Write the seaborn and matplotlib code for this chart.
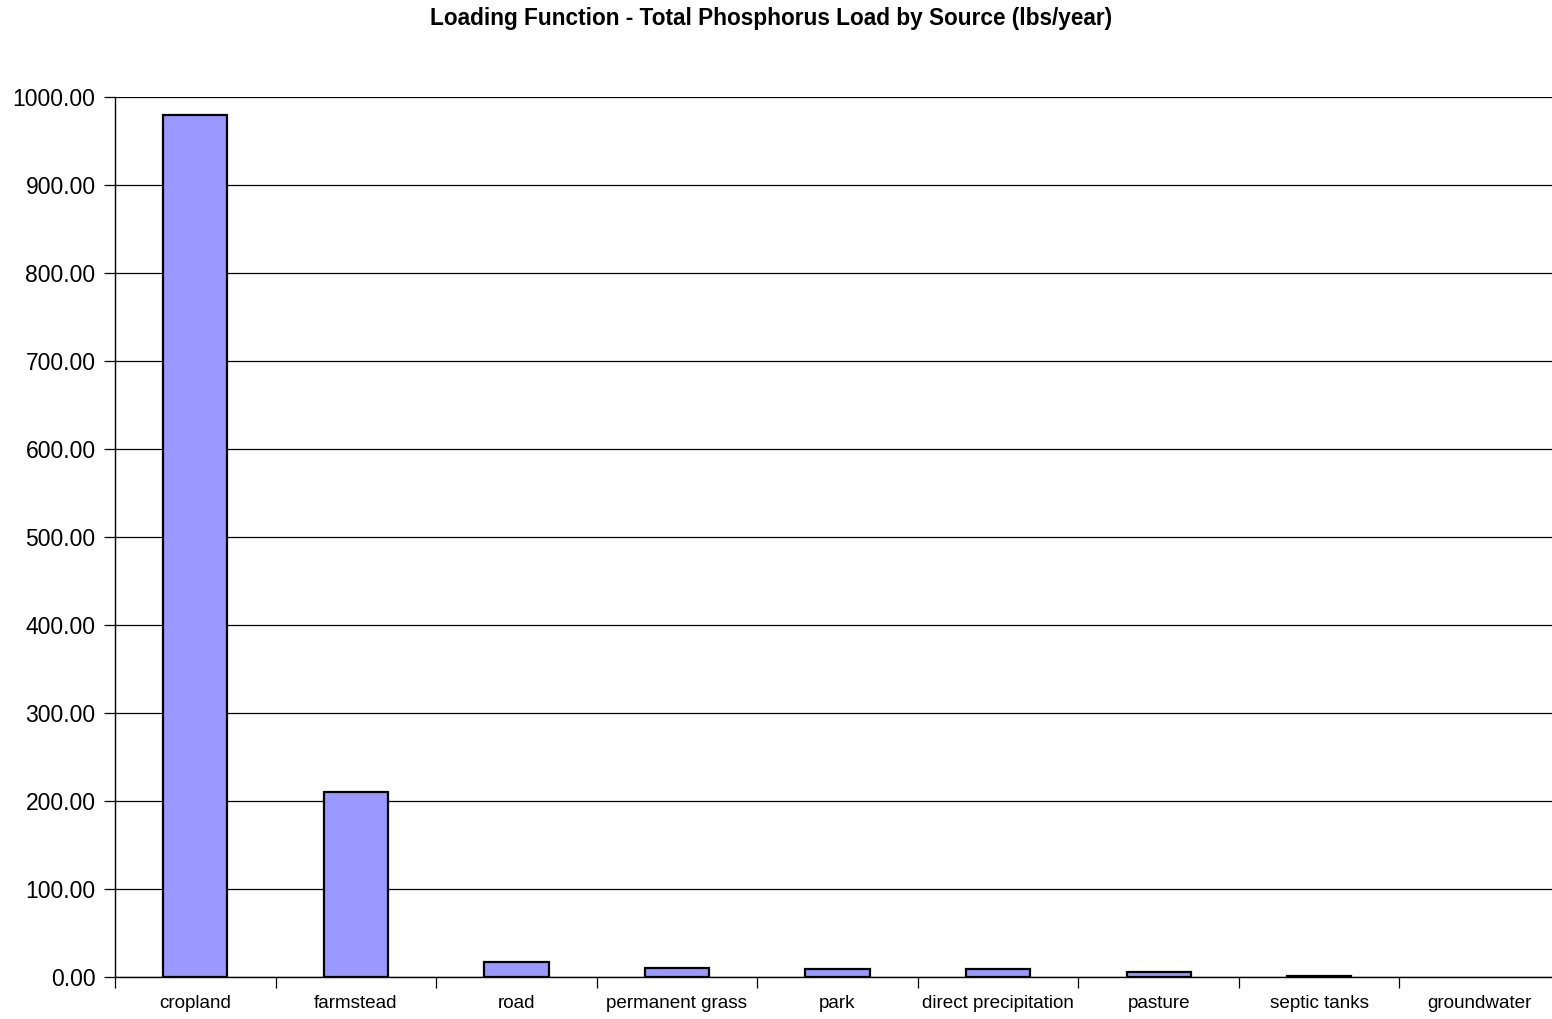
import matplotlib
matplotlib.use("Agg")
import matplotlib.pyplot as plt
import seaborn as sns
import numpy as np
import pandas as pd

sources = ["cropland", "farmstead", "road", "permanent grass", "park",
           "direct precipitation", "pasture", "septic tanks", "groundwater"]
loads = [980.0, 210.0, 17.0, 10.0, 8.8, 8.8, 5.3, 1.5, 0.0]
y_ticks = [0, 100, 200, 300, 400, 500, 600, 700, 800, 900, 1000]

sns.set_theme(style="white")
plt.rcParams["font.family"] = ["Liberation Sans", "DejaVu Sans"]
plt.rcParams["text.color"] = "black"
plt.rcParams["xtick.color"] = "black"
plt.rcParams["ytick.color"] = "black"
plt.rcParams["axes.labelcolor"] = "black"

df = pd.DataFrame({"source": sources, "load": loads})

fig = plt.figure(figsize=(15.52, 10.19), dpi=100)
ax = fig.add_axes([115 / 1552, 1 - 977 / 1019, (1560 - 115) / 1552, (977 - 97) / 1019])

sns.barplot(data=df, x="source", y="load", color="#9999ff", saturation=1,
            edgecolor="black", linewidth=1.6, width=0.4, ax=ax, zorder=3)

# a zero-height bar leaves no visible outline
for patch in ax.patches:
    if patch.get_height() == 0:
        patch.set_linewidth(0)

ax.set_xlim(-0.5, len(sources) - 0.5)
ax.set_ylim(0, 1000)
ax.set_yticks(y_ticks)
ax.set_yticklabels([f"{v:.2f}" for v in y_ticks], fontsize=16.5)
ax.yaxis.grid(True, color="black", linewidth=0.9)
ax.set_axisbelow(True)

# category labels centred, tick marks between categories
ax.set_xticks(range(len(sources)))
ax.set_xticklabels(sources, fontsize=13.6)
ax.set_xticks(np.arange(-0.5, len(sources), 1.0), minor=True)
ax.tick_params(axis="x", which="major", length=0, pad=13)
ax.tick_params(axis="x", which="minor", length=8, width=0.9, color="black", direction="out", bottom=True)
ax.tick_params(axis="y", length=8, width=0.9, color="black", direction="out", left=True, pad=6)

for side in ["top", "right"]:
    ax.spines[side].set_visible(False)
for side in ["left", "bottom"]:
    ax.spines[side].set_visible(True)
    ax.spines[side].set_color("black")
    ax.spines[side].set_linewidth(1.0)

ax.set_xlabel("")
ax.set_ylabel("")
fig.text(771 / 1552, 1 - 19 / 1019, "Loading Function - Total Phosphorus Load by Source (lbs/year)",
         ha="center", va="center", fontsize=16.3, fontweight="bold", color="black")

fig.savefig("out.png", dpi=100, facecolor="white")
